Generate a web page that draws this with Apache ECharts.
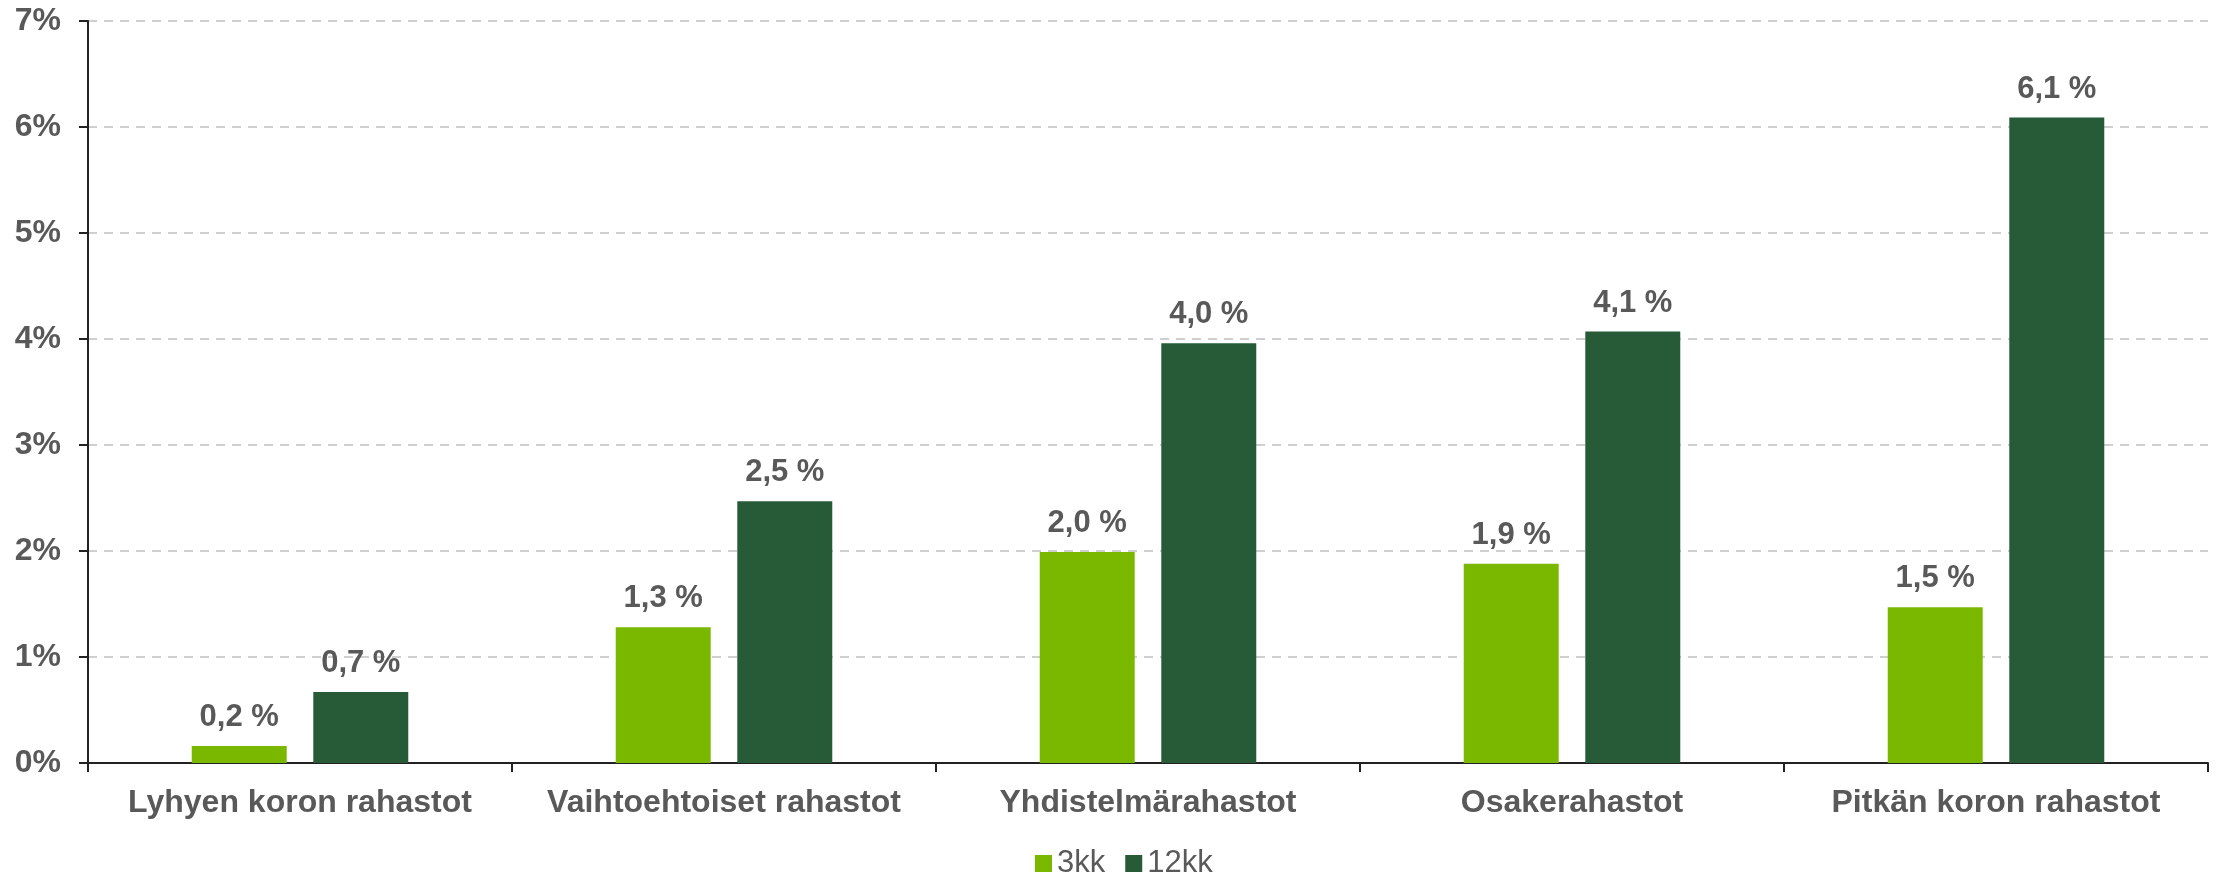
<!DOCTYPE html>
<html>
<head>
<meta charset="utf-8">
<script src="https://cdn.jsdelivr.net/npm/echarts@6/dist/echarts.min.js"></script>
<style>
  html, body { margin: 0; padding: 0; background: #fff; }
  #chart { width: 2216px; height: 875px; }
</style>
</head>
<body>
<div id="chart"></div>
<script>
const categories = ['Lyhyen koron rahastot', 'Vaihtoehtoiset rahastot', 'Yhdistelmärahastot', 'Osakerahastot', 'Pitkän koron rahastot']
const values3kk = [0.16, 1.28, 1.99, 1.88, 1.47]
const values12kk = [0.67, 2.47, 3.96, 4.07, 6.09]
const yTicks = [0, 1, 2, 3, 4, 5, 6, 7]

const textColor = '#595959'
const font = 'Liberation Sans, Arial, sans-serif'

const chart = echarts.init(document.getElementById('chart'))

function labelFmt(p) {
  return p.value.toFixed(1).replace('.', ',') + ' %'
}

const barLabel = {
  show: true,
  position: 'top',
  distance: 13,
  formatter: labelFmt,
  color: textColor,
  fontFamily: font,
  fontWeight: 'bold',
  fontSize: 31
}

chart.setOption({
  animation: false,
  textStyle: { fontFamily: font },
  grid: { left: 88, right: 8, top: 21, bottom: 112, containLabel: false },
  legend: {
    top: 843,
    left: 1030,
    itemWidth: 17,
    itemHeight: 17,
    itemGap: 20,
    icon: 'rect',
    textStyle: { color: textColor, fontSize: 31, fontFamily: font }
  },
  xAxis: {
    type: 'category',
    data: categories,
    axisLine: { lineStyle: { color: '#222', width: 2 } },
    axisTick: { show: true, alignWithLabel: false, length: 9, lineStyle: { color: '#222', width: 2 } },
    axisLabel: { interval: 0, color: textColor, fontWeight: 'bold', fontSize: 32, margin: 24, fontFamily: font }
  },
  yAxis: {
    type: 'value',
    min: yTicks[0],
    max: yTicks[yTicks.length - 1],
    interval: 1,
    axisLine: { show: true, lineStyle: { color: '#222', width: 2 } },
    axisTick: { show: true, length: 9, lineStyle: { color: '#222', width: 2 } },
    axisLabel: { color: textColor, fontWeight: 'bold', fontSize: 32, margin: 27, formatter: '{value}%', fontFamily: font },
    splitLine: { show: true, lineStyle: { color: '#c0c0c0', type: [9, 7], width: 1.5 } }
  },
  series: [
    {
      name: '3kk',
      type: 'bar',
      data: values3kk,
      barWidth: '22.4%',
      barGap: '28%',
      itemStyle: { color: '#7ab800' },
      label: barLabel
    },
    {
      name: '12kk',
      type: 'bar',
      data: values12kk,
      barWidth: '22.4%',
      itemStyle: { color: '#275a37' },
      label: barLabel
    }
  ]
})
</script>
</body>
</html>
